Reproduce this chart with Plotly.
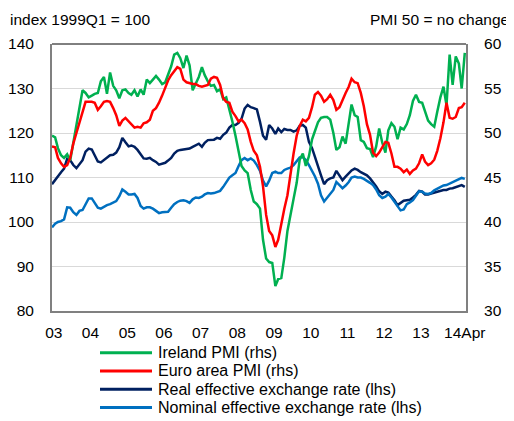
import pandas as pd
import plotly.graph_objects as go

months = pd.date_range("2003-01-01", periods=136, freq="MS")

ireland_pmi = [
    49.7, 49.5, 48.3, 47.5, 47.2, 47.6, 46.9, 48.9, 50.8, 52.9, 54.8, 54.5,
    54.0, 54.2, 54.4, 54.5, 55.8, 56.3, 54.4, 56.8, 55.3, 54.8, 53.9, 54.8,
    54.9, 54.5, 54.3, 54.8, 54.1, 54.9, 54.3, 56.0, 55.6, 56.0, 56.4, 56.0,
    55.5, 55.7, 56.6, 57.5, 58.8, 59.0, 58.4, 57.3, 58.7, 57.6, 54.8, 55.5,
    56.3, 57.4, 56.5, 55.8, 55.3, 55.4, 54.7, 54.9, 53.8, 54.0, 52.7, 51.3,
    49.7, 48.1, 46.3, 45.8, 45.5, 43.6, 42.3, 42.0, 41.5, 38.0, 35.9, 35.5,
    35.4, 32.8, 33.6, 33.7, 36.0, 39.0, 41.0, 42.6, 44.4, 47.0, 47.7, 46.3,
    47.4, 49.3, 50.2, 51.2, 51.7, 51.8, 51.8, 51.5, 50.0, 48.1, 48.4, 49.6,
    48.8, 51.0, 53.2, 52.0, 51.8, 49.2, 49.0, 48.3, 48.2, 47.3, 48.5, 50.5,
    48.9, 47.8, 50.3, 51.1, 50.7, 49.3, 50.6, 50.4, 51.0, 52.0, 53.6, 54.3,
    53.5, 53.4, 52.5, 51.4, 51.0, 50.7, 52.4, 54.0, 55.2, 53.1, 58.8, 55.4,
    58.6, 57.8, 55.0, 59.0,
]

euro_pmi = [
    48.5, 48.4, 47.2, 46.6, 46.2, 46.4, 47.2, 48.8, 50.0, 51.2, 52.4, 53.5,
    53.5, 53.5, 53.4, 52.6, 53.0, 53.5, 53.6, 53.5, 52.8, 52.0, 50.8, 51.4,
    51.7, 51.3, 50.9, 50.6, 50.7, 50.6, 51.1, 51.2, 51.5, 52.5, 52.8, 53.4,
    54.2, 55.2, 55.9, 56.5, 56.9, 57.4, 57.2, 56.0, 55.7, 55.6, 55.5, 55.5,
    55.3, 55.2, 55.3, 55.4, 56.1, 56.3, 56.2, 55.4, 53.9, 53.5, 53.4, 52.4,
    51.9, 51.3, 51.5, 51.1, 50.4, 49.0, 48.0, 47.5, 46.2, 44.0, 40.8, 39.0,
    38.5, 37.2, 38.0, 40.0, 41.5, 43.0, 45.5, 47.7, 49.7, 50.8, 51.5, 51.3,
    51.7, 52.9, 54.3, 54.6, 54.2, 53.5, 53.8, 54.3, 53.7, 52.6, 52.9, 53.8,
    54.5, 55.2, 56.1, 55.7, 55.6, 54.5, 53.0, 51.0, 49.8, 47.8, 47.4, 47.8,
    48.4, 49.0, 48.9, 47.7, 46.2, 46.2, 46.0, 45.6, 45.9, 45.4, 45.8, 46.0,
    46.6, 47.6, 46.8, 46.4, 46.6, 47.0, 48.0, 49.4, 51.2, 53.4, 51.7, 51.6,
    51.8, 52.8, 52.9, 53.4,
]

reer = [
    108.5, 109.5, 110.3, 111.2, 112.0, 114.2, 113.9, 112.8, 112.1, 113.0, 113.9, 115.8,
    116.5, 116.3, 115.0, 113.6, 113.4, 114.0, 114.6, 115.0, 115.1, 115.6, 116.8, 118.9,
    117.9, 117.0, 117.2, 116.9, 116.2, 115.2, 114.3, 114.2, 114.4, 113.9, 113.5, 112.9,
    113.1, 113.3, 113.8, 114.4, 115.4, 116.0, 116.2, 116.3, 116.4, 116.5, 116.9, 117.3,
    117.6, 116.9, 117.8, 118.4, 118.4, 118.5, 118.9, 118.7, 119.6, 120.1, 121.2, 121.8,
    121.8, 122.3, 123.2, 125.5, 126.3, 125.8, 125.6, 125.3, 122.5, 119.4, 118.5, 121.8,
    121.0, 119.8, 121.0, 120.2, 120.9, 120.7, 120.7, 120.3, 120.6, 121.6, 121.8, 121.2,
    118.0, 116.6, 114.7, 112.4, 110.5, 108.5, 109.4, 109.8, 110.0, 111.5, 110.5, 109.4,
    110.2, 111.0, 111.6, 112.0, 111.7, 111.2, 110.8, 110.5, 109.8, 109.0, 108.0, 106.9,
    106.3, 106.8, 106.6, 105.7, 104.9, 103.8, 104.3, 104.8, 104.9, 105.0, 105.5, 106.1,
    107.0, 106.8, 106.2, 106.2, 106.4, 106.6, 106.7, 106.9, 107.2, 107.2, 107.5, 107.6,
    107.9, 108.2, 108.3, 107.9,
]

neer = [
    98.8, 99.6, 100.0, 100.2, 100.6, 103.3, 103.2, 102.2, 101.6, 102.5, 102.7, 104.0,
    105.3, 105.3, 104.2, 103.2, 103.0, 103.5, 103.8, 104.0, 104.3, 104.7, 105.8, 107.3,
    106.8, 106.2, 106.2, 106.3, 105.4, 103.6, 103.0, 103.3, 103.3, 103.0, 102.5, 102.0,
    102.2, 102.3, 102.3, 103.2, 104.0, 104.5, 104.8, 104.9, 104.7, 104.3, 105.1, 105.5,
    105.4, 105.7, 106.2, 106.5, 106.4, 106.5, 106.8, 107.0, 107.9, 109.0, 110.0, 110.5,
    111.0, 112.6, 113.9, 114.4, 113.9, 114.3, 113.8, 112.8, 111.5, 109.3, 108.0, 109.3,
    111.0, 111.3, 111.0, 111.0, 111.7, 112.0, 112.2, 112.8, 113.6, 114.5, 114.6, 113.9,
    112.8, 111.5, 110.3, 108.6, 106.0, 104.6, 105.5, 106.5, 107.2, 109.0, 108.2, 107.6,
    108.2, 109.0, 110.0, 110.2, 110.0, 110.0, 109.7, 109.3, 108.8, 108.3, 107.3, 106.0,
    105.4, 105.7, 106.3, 105.5, 104.6, 103.5, 102.6, 102.8, 104.0, 104.4, 104.9, 105.9,
    106.9, 106.8, 106.4, 106.3, 106.5, 107.1, 107.4, 107.8, 108.2, 108.3, 108.6, 108.9,
    109.2, 109.5, 109.9, 109.7,
]

series_names = [
    "Ireland PMI (rhs)",
    "Euro area PMI (rhs)",
    "Real effective exchange rate (lhs)",
    "Nominal effective exchange rate (lhs)",
]
year_labels = ["03", "04", "05", "06", "07", "08", "09", "10", "11", "12", "13", "14Apr"]
tick_dates = [f"20{y}-01-19" for y in year_labels[:-1]] + ["2014-04-01"]

FONT = "Liberation Sans, Arial, sans-serif"
COLORS = ["#00B050", "#FF0000", "#002060", "#0070C0"]
series_values = [ireland_pmi, euro_pmi, reer, neer]
series_axes = ["y2", "y2", "y", "y"]

# figure geometry (page body adds an 8px offset)
W, H = 506, 413
L, R, T, B = 44, 48, 36, 110
PW, PH = W - L - R, H - T - B


def px(fx):
    return (fx - L) / PW


def py(fy):
    return (H - B - fy) / PH


fig = go.Figure()
for name, vals, ax, col in zip(series_names, series_values, series_axes, COLORS):
    fig.add_trace(go.Scatter(x=months, y=vals, name=name, yaxis=ax, mode="lines",
                             line=dict(color=col, width=2.5), showlegend=False))

# manual legend (compact rows like the original)
legend_rows = [344.7, 362.9, 381.2, 399.6]
shapes = [dict(type="line", xref="paper", yref="paper", x0=0, x1=1, y0=1, y1=1,
               line=dict(color="#000000", width=1))]
annotations = [
    dict(text="index 1999Q1 = 100", xref="paper", yref="paper", x=px(0), y=py(0.5),
         xanchor="left", yanchor="top", showarrow=False, font=dict(size=15.5)),
    dict(text="PMI 50 = no change", xref="paper", yref="paper", x=px(503), y=py(0.5),
         xanchor="right", yanchor="top", showarrow=False, font=dict(size=15.5)),
]
for name, col, ry in zip(series_names, COLORS, legend_rows):
    shapes.append(dict(type="line", xref="paper", yref="paper", x0=px(92), x1=px(144),
                       y0=py(ry), y1=py(ry), line=dict(color=col, width=3)))
    annotations.append(dict(text=name, xref="paper", yref="paper", x=px(148), y=py(ry),
                            xanchor="left", yanchor="middle", showarrow=False,
                            font=dict(size=16)))

fig.update_layout(
    width=W, height=H,
    margin=dict(l=L, r=R, t=T, b=B, autoexpand=False),
    paper_bgcolor="white", plot_bgcolor="white",
    font=dict(family=FONT, size=15, color="#000000"),
    showlegend=False,
    xaxis=dict(type="date", range=["2003-01-01", "2014-04-13"], automargin=False,
               tickvals=tick_dates, ticktext=year_labels, tickangle=0,
               showgrid=False, zeroline=False, showline=True, linecolor="#808080", linewidth=2,
               ticks="", ticklabelstandoff=6, tickfont=dict(size=15.5)),
    yaxis=dict(range=[80, 140], dtick=10, showgrid=True, gridcolor="#D9D9D9", gridwidth=1,
               automargin=False,
               zeroline=False, showline=True, linecolor="#808080", linewidth=2,
               ticks="", ticklabelstandoff=13, tickfont=dict(size=15.5)),
    yaxis2=dict(range=[30, 60], dtick=5, overlaying="y", side="right", showgrid=False,
                automargin=False,
                zeroline=False, showline=True, linecolor="#808080", linewidth=2,
                ticks="", ticklabelstandoff=13, tickfont=dict(size=15.5)),
    annotations=annotations,
    shapes=shapes,
)

fig.write_html("out.html")
